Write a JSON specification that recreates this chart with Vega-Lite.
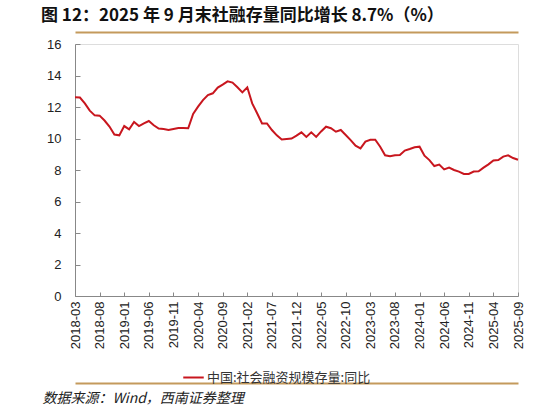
{
  "$schema": "https://vega.github.io/schema/vega-lite/v6.json",
  "width": 443,
  "height": 252,
  "autosize": "none",
  "padding": {"left": 75, "top": 44, "right": 24, "bottom": 116},
  "background": "white",
  "title": {
    "text": "图 12：2025 年 9 月末社融存量同比增长 8.7%（%）",
    "anchor": "start",
    "dx": -1,
    "offset": 7,
    "font": "Noto Sans CJK SC",
    "fontSize": 17,
    "fontWeight": "bold",
    "color": "#111111"
  },
  "data": {
    "values": [
      {"month": "2018-03", "value": 12.62}, {"month": "2018-04", "value": 12.6},
      {"month": "2018-05", "value": 12.23}, {"month": "2018-06", "value": 11.77},
      {"month": "2018-07", "value": 11.47}, {"month": "2018-08", "value": 11.45},
      {"month": "2018-09", "value": 11.14}, {"month": "2018-10", "value": 10.76},
      {"month": "2018-11", "value": 10.25}, {"month": "2018-12", "value": 10.2},
      {"month": "2019-01", "value": 10.79}, {"month": "2019-02", "value": 10.58},
      {"month": "2019-03", "value": 11.05}, {"month": "2019-04", "value": 10.79},
      {"month": "2019-05", "value": 10.96}, {"month": "2019-06", "value": 11.11},
      {"month": "2019-07", "value": 10.84}, {"month": "2019-08", "value": 10.63},
      {"month": "2019-09", "value": 10.6}, {"month": "2019-10", "value": 10.54},
      {"month": "2019-11", "value": 10.6}, {"month": "2019-12", "value": 10.66},
      {"month": "2020-01", "value": 10.67}, {"month": "2020-02", "value": 10.65},
      {"month": "2020-03", "value": 11.56}, {"month": "2020-04", "value": 12.02},
      {"month": "2020-05", "value": 12.44}, {"month": "2020-06", "value": 12.76},
      {"month": "2020-07", "value": 12.87}, {"month": "2020-08", "value": 13.23},
      {"month": "2020-09", "value": 13.42}, {"month": "2020-10", "value": 13.63},
      {"month": "2020-11", "value": 13.55}, {"month": "2020-12", "value": 13.25},
      {"month": "2021-01", "value": 12.93}, {"month": "2021-02", "value": 13.25},
      {"month": "2021-03", "value": 12.23}, {"month": "2021-04", "value": 11.6},
      {"month": "2021-05", "value": 10.96}, {"month": "2021-06", "value": 10.96},
      {"month": "2021-07", "value": 10.54}, {"month": "2021-08", "value": 10.2},
      {"month": "2021-09", "value": 9.94}, {"month": "2021-10", "value": 9.97},
      {"month": "2021-11", "value": 10.0}, {"month": "2021-12", "value": 10.18},
      {"month": "2022-01", "value": 10.39}, {"month": "2022-02", "value": 10.1},
      {"month": "2022-03", "value": 10.39}, {"month": "2022-04", "value": 10.1},
      {"month": "2022-05", "value": 10.45}, {"month": "2022-06", "value": 10.75},
      {"month": "2022-07", "value": 10.65}, {"month": "2022-08", "value": 10.43},
      {"month": "2022-09", "value": 10.54}, {"month": "2022-10", "value": 10.22},
      {"month": "2022-11", "value": 9.9}, {"month": "2022-12", "value": 9.54},
      {"month": "2023-01", "value": 9.37}, {"month": "2023-02", "value": 9.8},
      {"month": "2023-03", "value": 9.92}, {"month": "2023-04", "value": 9.92},
      {"month": "2023-05", "value": 9.48}, {"month": "2023-06", "value": 8.93},
      {"month": "2023-07", "value": 8.87}, {"month": "2023-08", "value": 8.93},
      {"month": "2023-09", "value": 8.95}, {"month": "2023-10", "value": 9.23},
      {"month": "2023-11", "value": 9.33}, {"month": "2023-12", "value": 9.44},
      {"month": "2024-01", "value": 9.48}, {"month": "2024-02", "value": 8.91},
      {"month": "2024-03", "value": 8.63}, {"month": "2024-04", "value": 8.25},
      {"month": "2024-05", "value": 8.34}, {"month": "2024-06", "value": 8.04},
      {"month": "2024-07", "value": 8.15}, {"month": "2024-08", "value": 8.0},
      {"month": "2024-09", "value": 7.9}, {"month": "2024-10", "value": 7.75},
      {"month": "2024-11", "value": 7.75}, {"month": "2024-12", "value": 7.9},
      {"month": "2025-01", "value": 7.92}, {"month": "2025-02", "value": 8.15},
      {"month": "2025-03", "value": 8.36}, {"month": "2025-04", "value": 8.61},
      {"month": "2025-05", "value": 8.63}, {"month": "2025-06", "value": 8.85},
      {"month": "2025-07", "value": 8.93}, {"month": "2025-08", "value": 8.76},
      {"month": "2025-09", "value": 8.65}
    ]
  },
  "resolve": {"axis": {"x": "independent"}},
  "layer": [
    {
      "mark": {"type": "line", "strokeWidth": 2},
      "encoding": {
        "x": {
          "field": "month",
          "type": "ordinal",
          "scale": {"type": "point", "padding": 0},
          "axis": {
            "orient": "bottom",
            "title": null,
            "values": ["2018-03", "2018-08", "2019-01", "2019-06", "2019-11", "2020-04", "2020-09", "2021-02", "2021-07", "2021-12", "2022-05", "2022-10", "2023-03", "2023-08", "2024-01", "2024-06", "2024-11", "2025-04", "2025-09"],
            "labelAngle": -90,
            "labelFont": "Liberation Sans",
            "labelFontSize": 13,
            "labelColor": "#222222",
            "labelPadding": 9,
            "labelOverlap": false,
            "tickSize": -4,
            "tickColor": "#888888",
            "domainColor": "#888888",
            "grid": false
          }
        },
        "y": {
          "field": "value",
          "type": "quantitative",
          "scale": {"domain": [0, 16], "nice": false},
          "axis": {
            "title": null,
            "values": [0, 2, 4, 6, 8, 10, 12, 14, 16],
            "labelFont": "Liberation Sans",
            "labelFontSize": 13,
            "labelColor": "#222222",
            "labelPadding": 19,
            "labelOverlap": false,
            "tickSize": -5,
            "tickColor": "#888888",
            "domainColor": "#888888",
            "grid": false
          }
        },
        "color": {
          "datum": "中国:社会融资规模存量:同比",
          "scale": {"range": ["#C8161E"]},
          "legend": {
            "title": null,
            "orient": "none",
            "legendX": 107,
            "legendY": 322,
            "symbolType": "stroke",
            "symbolSize": 420,
            "symbolStrokeWidth": 2,
            "labelFont": "Noto Sans CJK SC",
            "labelFontSize": 13,
            "labelColor": "#333333",
            "labelOffset": 2,
            "labelLimit": 400
          }
        }
      }
    },
    {
      "mark": {"type": "line", "strokeOpacity": 0},
      "encoding": {
        "x": {
          "field": "month",
          "type": "ordinal",
          "axis": {
            "orient": "top",
            "offset": 12,
            "title": null,
            "labels": false,
            "ticks": false,
            "domainColor": "#C49A5C",
            "domainWidth": 2
          }
        }
      }
    },
    {
      "mark": {"type": "line", "strokeOpacity": 0},
      "encoding": {
        "x": {
          "field": "month",
          "type": "ordinal",
          "axis": {
            "orient": "bottom",
            "offset": 87,
            "labels": false,
            "ticks": false,
            "domainColor": "#C49A5C",
            "domainWidth": 2,
            "title": "数据来源：Wind，西南证券整理",
            "titleFont": "Noto Sans CJK SC",
            "titleFontSize": 14,
            "titleFontStyle": "italic",
            "titleFontWeight": "normal",
            "titleColor": "#222222",
            "titleAnchor": "start",
            "titleAlign": "left",
            "titleBaseline": "middle",
            "titleX": -33,
            "titleY": 15
          }
        }
      }
    }
  ]
}
